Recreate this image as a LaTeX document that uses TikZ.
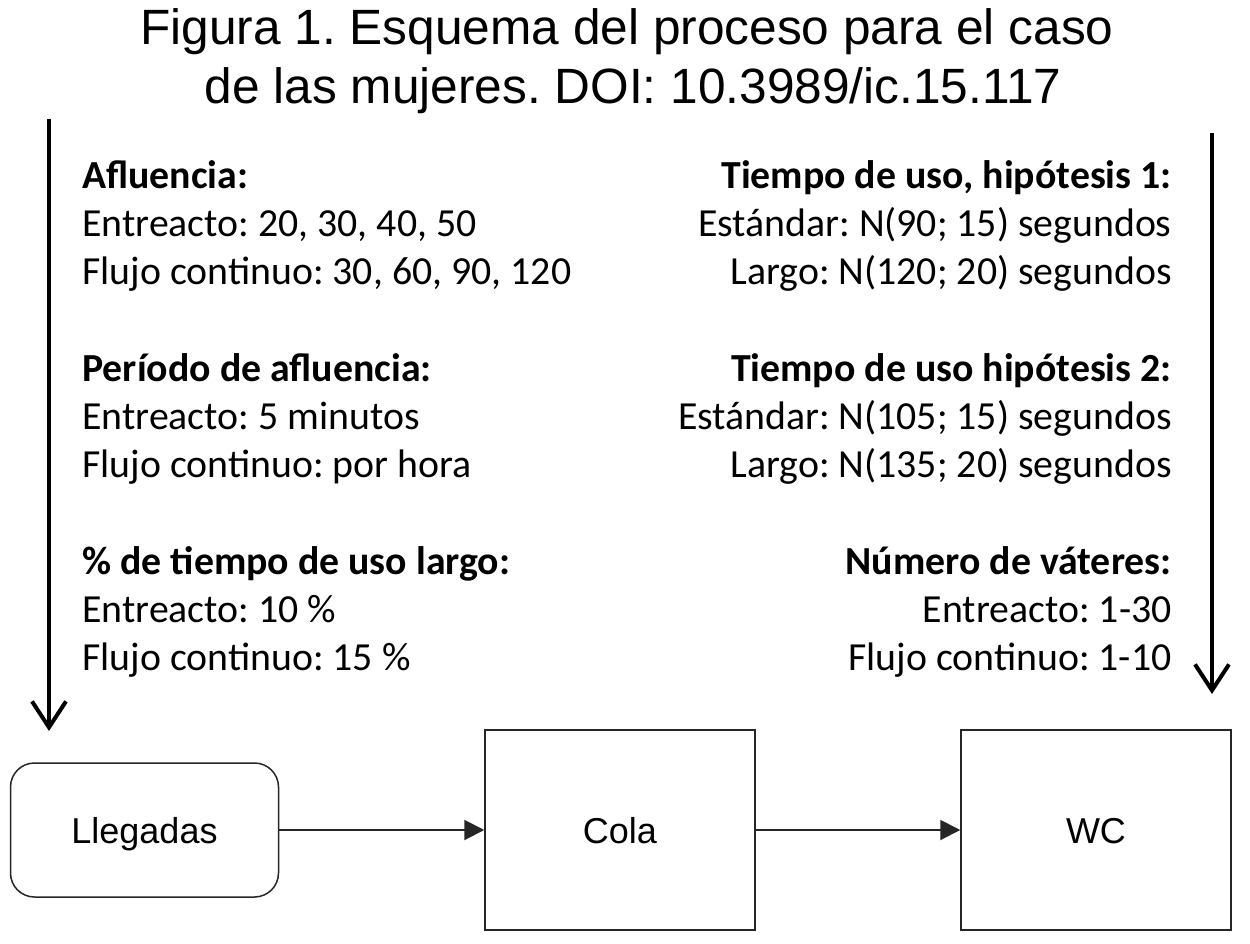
\documentclass[tikz,border=0pt]{standalone}
\usepackage{fontspec}
\setmainfont{Liberation Sans}
\newfontfamily\bodyfont{Carlito}
\usetikzlibrary{arrows.meta}
\frenchspacing
\tikzset{
  titletext/.style={font=\fontsize{24.8}{30}\selectfont, align=center, inner sep=0pt},
  lefttext/.style={font=\bodyfont\fontsize{19.9}{24}\selectfont, anchor=base west, inner sep=0pt},
  righttext/.style={font=\bodyfont\fontsize{19.9}{24}\selectfont, anchor=base east, inner sep=0pt},
  headl/.style={lefttext, font=\bodyfont\bfseries\fontsize{19.9}{24}\selectfont},
  headr/.style={righttext, font=\bodyfont\bfseries\fontsize{19.9}{24}\selectfont},
  procbox/.style={draw=black!85, line width=0.75pt, minimum width=135pt, minimum height=100pt, inner sep=0pt, text height=13pt, text depth=0pt, font=\fontsize{18}{22}\selectfont},
  roundbox/.style={procbox, rounded corners=12pt, minimum height=67pt, minimum width=134pt},
  flow/.style={draw=black!85, line width=1pt, -{Triangle[length=10pt,width=10pt]}},
  bigarrow/.style={draw=black, line width=2pt, -{Straight Barb[length=13pt,width=17pt,line width=2pt]}}
}
\begin{document}
\begin{tikzpicture}[x=0.5pt,y=-0.5pt]
\useasboundingbox[fill=white] (0,0) rectangle (1250,944);
% title
\node[titletext, anchor=base] (t1) at (627,44) {Figura 1. Esquema del proceso para el caso};
\node[titletext, anchor=base] (t2) at (633,103) {de las mujeres. DOI: 10.3989/ic.15.117};
% left block
\node[headl] (a0) at (82,188) {Afluencia:};
\node[lefttext] (a1) at (82,236) {Entreacto: 20, 30, 40, 50};
\node[lefttext] (a2) at (82,284) {Flujo continuo: 30, 60, 90, 120};
\node[headl] (p0) at (82,381) {Período de afluencia:};
\node[lefttext] (p1) at (82,429) {Entreacto: 5 minutos};
\node[lefttext] (p2) at (82,477) {Flujo continuo: por hora};
\node[headl] (u0) at (82,574) {\% de tiempo de uso largo:};
\node[lefttext] (u1) at (82,622) {Entreacto: 10 \%};
\node[lefttext] (u2) at (82,670) {Flujo continuo: 15 \%};
% right block
\node[headr] (h0) at (1172,188) {Tiempo de uso, hipótesis 1:};
\node[righttext] (h1) at (1172,236) {Estándar: N(90; 15) segundos};
\node[righttext] (h2) at (1172,284) {Largo: N(120; 20) segundos};
\node[headr] (k0) at (1172,381) {Tiempo de uso hipótesis 2:};
\node[righttext] (k1) at (1172,429) {Estándar: N(105; 15) segundos};
\node[righttext] (k2) at (1172,477) {Largo: N(135; 20) segundos};
\node[headr] (v0) at (1172,574) {Número de váteres:};
\node[righttext] (v1) at (1172,622) {Entreacto: 1-30};
\node[righttext] (v2) at (1172,670) {Flujo continuo: 1-10};
% process boxes
\node[roundbox] (lleg) at (144.5,830) {Llegadas};
\node[procbox] (cola) at (620,830) {Cola};
\node[procbox] (wc) at (1096,830) {WC};
\draw[flow] (lleg) -- (cola);
\draw[flow] (cola) -- (wc);
% input arrows
\coordinate (ls) at (49,119);
\coordinate (le) at (49,731);
\coordinate (rs) at (1212,133);
\coordinate (re) at (1212,694);
\draw[bigarrow] (ls) -- (le);
\draw[bigarrow] (rs) -- (re);
\end{tikzpicture}
\end{document}
